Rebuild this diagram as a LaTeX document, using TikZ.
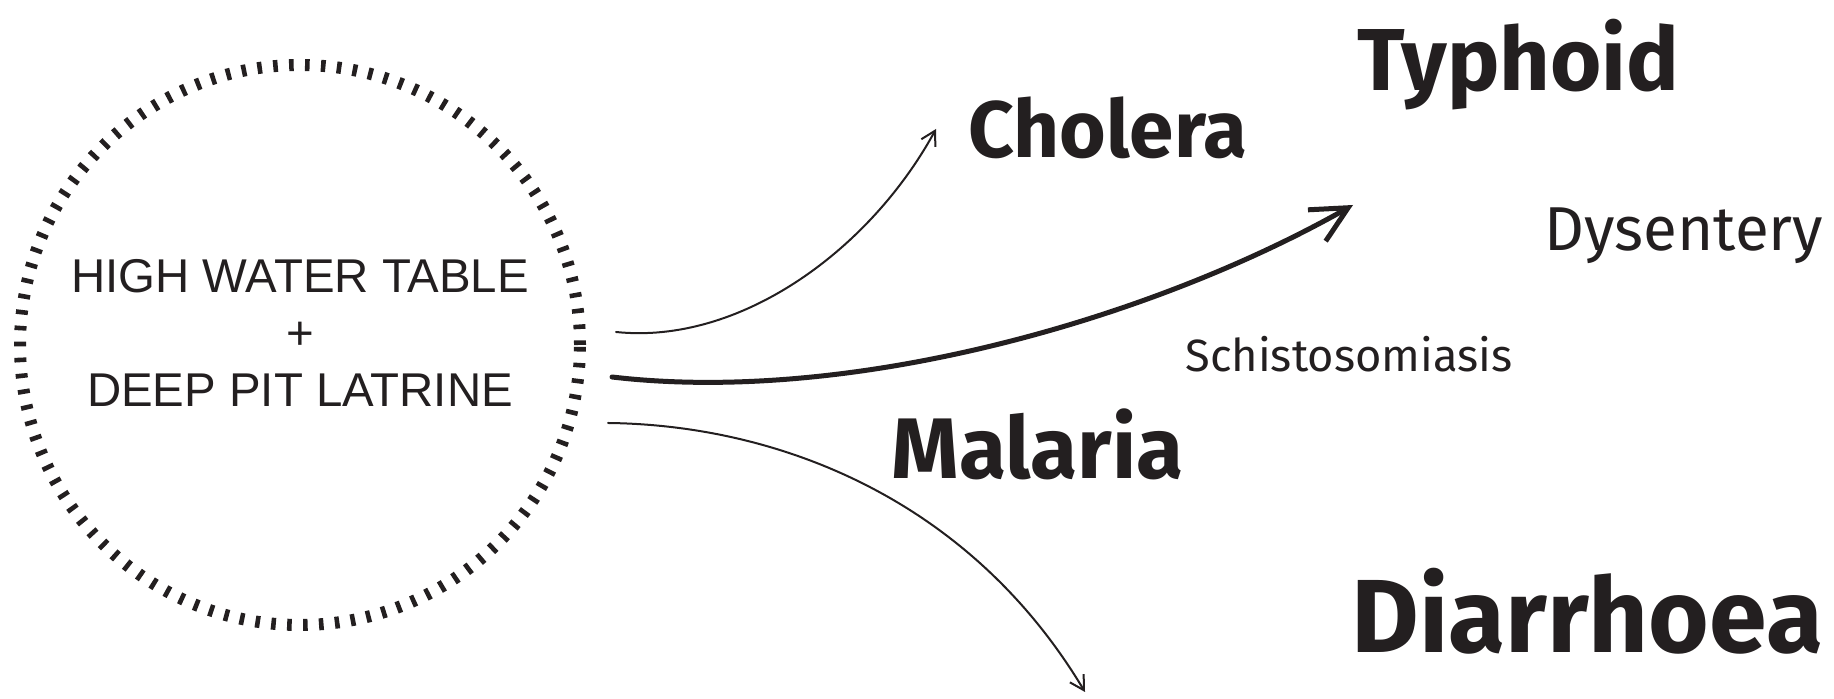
\documentclass[tikz,border=0pt]{standalone}
\usepackage{fontspec}
\setmainfont{Liberation Sans}
\newfontfamily\handfont{Fira Sans}
\usetikzlibrary{arrows.meta}
\definecolor{ink}{HTML}{231F20}
\begin{document}
\begin{tikzpicture}[x=0.5pt,y=0.5pt,line join=round,line cap=round,
	ring/.style={draw=ink,line width=6pt,line cap=butt,dash pattern=on 2.3pt off 5.668pt},
	boxtext/.style={align=center,text=ink,font=\fontsize{23.7}{28.5}\selectfont},
	hand/.style={anchor=base west,inner sep=0pt,text=ink},
	thinarrow/.style={draw=ink,line width=1pt,-{Straight Barb[length=7pt,width=8pt]}},
	thickarrow/.style={draw=ink,line width=2.5pt,-{Straight Barb[length=18pt,width=18pt]}}]
	\useasboundingbox (0,0) rectangle (1834,699);
	\draw[ring] (300,354) circle (280);
	\node[boxtext] (src) at (300,366) {HIGH WATER TABLE\\+\\DEEP PIT LATRINE};
	\node[hand,font=\handfont\bfseries\fontsize{40}{40}\selectfont] (cholera) at (968,541) {Cholera};
	\node[hand,font=\handfont\bfseries\fontsize{44}{44}\selectfont] (typhoid) at (1357,608) {Typhoid};
	\node[hand,font=\handfont\fontsize{31}{31}\selectfont] (dysentery) at (1544,448) {Dysentery};
	\node[hand,font=\handfont\fontsize{22.6}{22.6}\selectfont] (schisto) at (1185,327) {Schistosomiasis};
	\node[hand,font=\handfont\bfseries\fontsize{43}{43}\selectfont] (malaria) at (891,220) {Malaria};
	\node[hand,font=\handfont\bfseries\fontsize{52}{52}\selectfont] (diarrhoea) at (1351,46) {Diarrhoea};
	\coordinate (src-a) at (616,367);
	\coordinate (src-b) at (612,322);
	\coordinate (src-c) at (608,276);
	\coordinate (cholera-in) at (936,570);
	\coordinate (typhoid-in) at (1353,494);
	\coordinate (diarrhoea-in) at (1085,7);
	\draw[thinarrow] (src-a) .. controls (740,354) and (870,449) .. (cholera-in);
	\draw[thickarrow] (src-b) .. controls (850,294) and (1150,379) .. (typhoid-in);
	\draw[thinarrow] (src-c) .. controls (780,274) and (970,199) .. (diarrhoea-in);
\end{tikzpicture}
\end{document}
